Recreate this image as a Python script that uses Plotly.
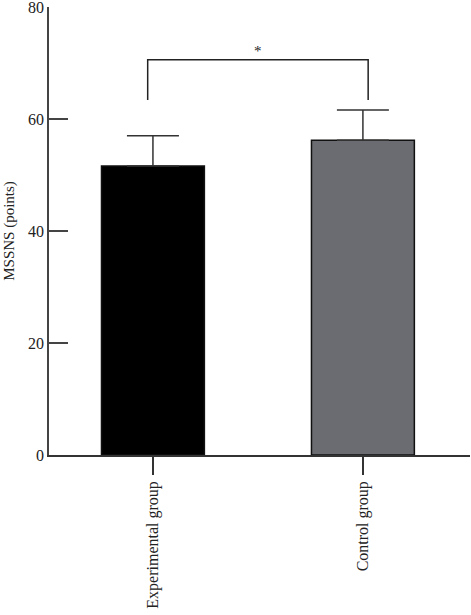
import plotly.graph_objects as go

# data
groups = ['Experimental group', 'Control group']
means = [51.6, 56.2]
sds = [5.4, 5.4]
bar_colors = ['#000000', '#6b6c71']

# significance bracket
bracket_x = [-0.025, -0.025, 1.025, 1.025]
bracket_y = [63.4, 70.6, 70.6, 63.4]
star_y = 72.2

font = dict(family='Liberation Serif, DejaVu Serif, serif', size=16, color='#222222')

bars = go.Bar(
    x=[0, 1],
    y=means,
    width=0.49,
    marker=dict(color=bar_colors, line=dict(color='#111111', width=1.5)),
    error_y=dict(type='data', symmetric=False, array=sds, arrayminus=[0, 0],
                 color='#333333', thickness=1.5, width=26),
    showlegend=False,
)

bracket = go.Scatter(
    x=bracket_x, y=bracket_y,
    mode='lines',
    line=dict(color='#222222', width=1.5),
    showlegend=False,
    hoverinfo='skip',
)

layout = dict(
    width=471, height=615,
    margin=dict(l=49, r=1, t=7, b=160),
    plot_bgcolor='white',
    paper_bgcolor='white',
    font=font,
    xaxis=dict(
        range=[-0.495, 1.51],
        tickmode='array', tickvals=[0, 1], ticktext=groups,
        tickangle=-90,
        ticks='outside', ticklen=18, tickwidth=1.5, tickcolor='#333333',
        showline=True, linecolor='#333333', linewidth=1.5,
        showgrid=False, zeroline=False, automargin=False,
        tickfont=dict(size=16),
    ),
    yaxis=dict(
        range=[0, 80],
        tickvals=[0, 20, 40, 60, 80],
        ticks='inside', ticklen=19, tickwidth=1.5, tickcolor='#444444',
        showline=True, linecolor='#444444', linewidth=1.5,
        showgrid=False, zeroline=False, automargin=False,
        ticklabeloverflow='allow',
        title=dict(text='MSSNS (points)', font=dict(size=15), standoff=10),
        tickfont=dict(size=16),
    ),
    annotations=[dict(x=0.5, y=star_y, text='*', showarrow=False,
                      font=dict(size=15), xref='x', yref='y')],
)

fig = go.Figure(data=[bars, bracket], layout=layout)
# drop the default 8px page margin so the figure sits at the window corner
fig.write_html("out.html", config={'displayModeBar': False},
               post_script="document.body.style.margin='0';")
